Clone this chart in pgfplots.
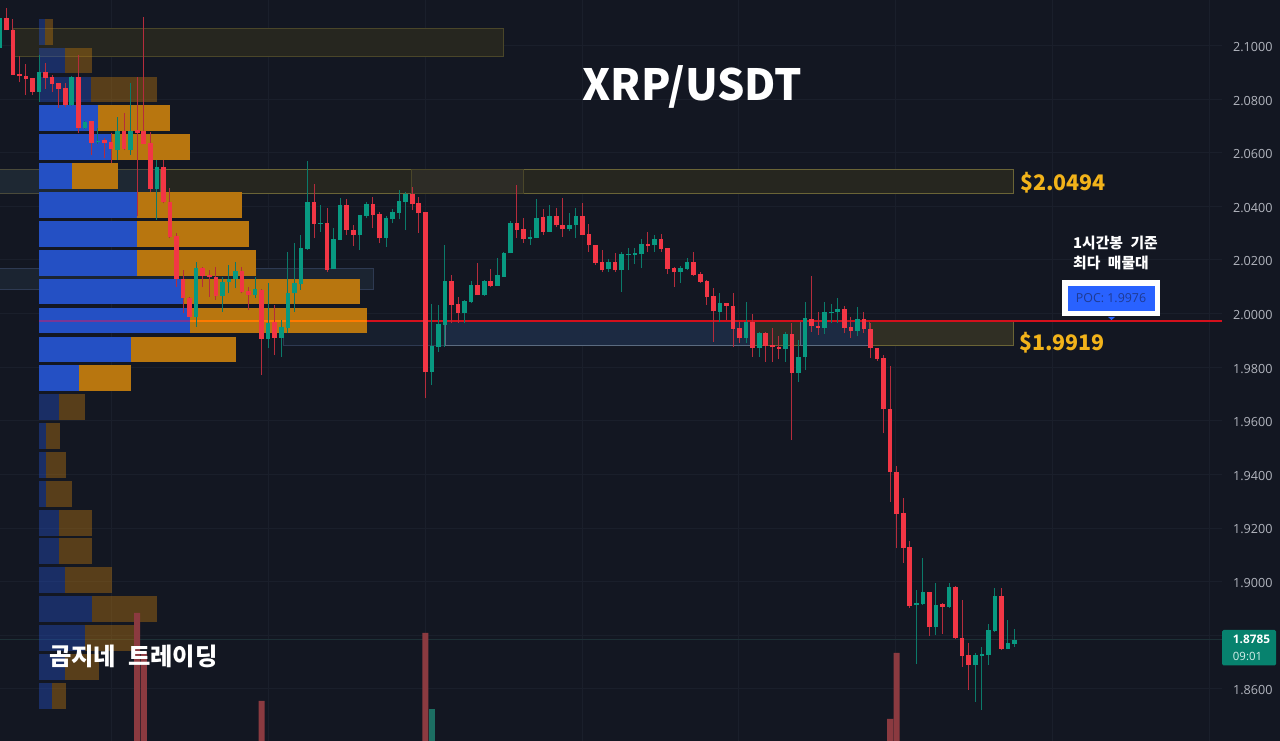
\documentclass[border=0pt]{standalone}
\usepackage{pgfplots}
\usepackage{pgfplotstable}
\usepackage{fontspec}
\pgfplotsset{compat=1.18}
\setmainfont{Open Sans}
\newfontfamily\kr{Noto Sans CJK KR}
\definecolor{bg}{HTML}{131722}
\definecolor{gridc}{HTML}{1A1F2B}
\definecolor{cred}{HTML}{F23645}
\definecolor{cteal}{HTML}{089981}
\definecolor{wred}{HTML}{B52C3C}
\definecolor{wteal}{HTML}{0B7A6A}
\definecolor{pblue}{HTML}{2450C4}
\definecolor{porange}{HTML}{B8760F}
\definecolor{olive}{HTML}{26261F}
\definecolor{olive2}{HTML}{2D2C26}
\definecolor{oledge}{HTML}{6A6436}
\definecolor{bluez}{HTML}{1C2A42}
\definecolor{bluez2}{HTML}{171F2E}
\definecolor{blueedge}{HTML}{5B6B80}
\definecolor{blueedge2}{HTML}{2E3A52}
\definecolor{gold}{HTML}{F2B31A}
\definecolor{ticktxt}{HTML}{B2B5BE}
\definecolor{lastline}{HTML}{1D3036}
\definecolor{oledgeb}{HTML}{4A4629}
\definecolor{zoneb}{HTML}{1E2833}
\definecolor{oledgec}{HTML}{4A4A3A}
\definecolor{zonec}{HTML}{1B2431}
\definecolor{olive3}{HTML}{302F24}
\definecolor{volred}{HTML}{8B3A40}
\definecolor{volteal}{HTML}{1C6E62}
\definecolor{pocpurple}{HTML}{7A3696}
\definecolor{pocorange}{HTML}{FF7A00}
\definecolor{pocred}{HTML}{D3101C}
\definecolor{pocblue}{HTML}{2962FF}
\definecolor{poctext}{HTML}{1F3A93}
\definecolor{tagfill}{HTML}{089981}
\definecolor{tagtxt}{HTML}{D5EFEA}

% candles: bar index, body top, body bottom, high, low
\pgfplotstableread{
i top bot hi lo
1 2.1102 2.1056 2.1139 2.1056
2 2.1058 2.0890 2.1098 2.0890
3 2.0894 2.0885 2.0959 2.0862
4 2.0888 2.0874 2.0931 2.0816
5 2.0878 2.0828 2.0878 2.0816
7 2.0901 2.0879 2.0934 2.0837
8 2.0881 2.0857 2.0890 2.0828
9 2.0859 2.0839 2.0859 2.0766
10 2.0842 2.0777 2.0859 2.0772
12 2.0884 2.0692 2.0965 2.0672
14 2.0717 2.0638 2.0720 2.0592
16 2.0648 2.0635 2.0654 2.0579
17 2.0640 2.0613 2.0672 2.0561
19 2.0682 2.0613 2.0747 2.0610
21 2.0685 2.0675 2.0884 2.0362
22 2.0682 2.0633 2.1108 2.0633
23 2.0638 2.0465 2.0679 2.0455
25 2.0548 2.0415 2.0573 2.0411
26 2.0417 2.0287 2.0467 2.0281
27 2.0289 2.0128 2.0299 2.0100
28 2.0128 2.0057 2.0163 2.0001
29 2.0059 1.9988 2.0063 1.9988
31 2.0169 2.0140 2.0175 2.0100
32 2.0145 2.0135 2.0163 2.0063
33 2.0135 2.0065 2.0175 2.0051
37 2.0160 2.0080 2.0175 2.0075
38 2.0083 2.0070 2.0100 2.0013
40 2.0088 1.9906 2.0090 1.9771
42 1.9969 1.9909 2.0032 1.9845
48 2.0415 2.0334 2.0483 2.0281
50 2.0338 2.0162 2.0392 2.0156
53 2.0405 2.0311 2.0426 2.0293
54 2.0313 2.0292 2.0330 2.0252
57 2.0407 2.0367 2.0436 2.0318
58 2.0371 2.0280 2.0380 2.0262
63 2.0445 2.0407 2.0473 2.0386
64 2.0411 2.0374 2.0436 2.0302
65 2.0377 1.9780 2.0377 1.9683
69 2.0122 2.0032 2.0144 1.9963
70 2.0035 2.0003 2.0063 1.9966
73 2.0106 2.0069 2.0187 2.0069
75 2.0121 2.0103 2.0165 2.0098
79 2.0339 2.0311 2.0479 2.0280
80 2.0314 2.0277 2.0355 2.0264
83 2.0359 2.0305 2.0389 2.0293
85 2.0365 2.0329 2.0392 2.0321
86 2.0330 2.0314 2.0430 2.0287
89 2.0364 2.0293 2.0411 2.0293
90 2.0297 2.0254 2.0333 2.0231
91 2.0257 2.0190 2.0257 2.0181
92 2.0194 2.0161 2.0237 2.0156
94 2.0194 2.0161 2.0225 2.0156
99 2.0259 2.0253 2.0303 2.0231
101 2.0278 2.0241 2.0297 2.0231
102 2.0243 2.0165 2.0243 2.0148
103 2.0169 2.0153 2.0172 2.0098
106 2.0191 2.0144 2.0231 2.0141
107 2.0146 2.0119 2.0153 2.0115
108 2.0123 2.0063 2.0125 2.0032
109 2.0065 2.0008 2.0094 1.9895
111 2.0038 2.0028 2.0041 1.9976
112 2.0029 1.9944 2.0078 1.9876
113 1.9945 1.9908 1.9970 1.9891
115 1.9968 1.9870 1.9998 1.9837
117 1.9929 1.9880 1.9932 1.9820
118 1.9883 1.9874 1.9945 1.9820
119 1.9875 1.9869 1.9916 1.9829
121 1.9924 1.9779 1.9966 1.9528
124 1.9980 1.9954 2.0140 1.9932
125 1.9955 1.9947 2.0007 1.9920
129 2.0018 1.9947 2.0028 1.9926
130 1.9950 1.9934 1.9986 1.9908
132 1.9981 1.9941 2.0007 1.9929
133 1.9942 1.9873 1.9966 1.9835
134 1.9873 1.9832 1.9873 1.9824
135 1.9833 1.9642 1.9845 1.9553
136 1.9644 1.9407 1.9804 1.9298
137 1.9410 1.9252 1.9431 1.9124
138 1.9254 1.9126 1.9310 1.9070
139 1.9129 1.8908 1.9151 1.8902
142 1.8959 1.8829 1.8962 1.8796
144 1.8915 1.8906 1.8918 1.8806
146 1.8979 1.8788 1.8983 1.8785
147 1.8790 1.8723 1.8931 1.8682
148 1.8724 1.8688 1.8769 1.8595
153 1.8946 1.8750 1.8974 1.8744
}\downbars
\pgfplotstableread{
i top bot hi lo
0 2.1102 2.0990 2.1139 2.0959
6 2.0901 2.0828 2.0965 2.0791
11 2.0884 2.0777 2.0886 2.0774
13 2.0715 2.0692 2.0720 2.0690
15 2.0643 2.0640 2.0691 2.0633
18 2.0682 2.0610 2.0735 2.0573
20 2.0682 2.0610 2.0859 2.0592
24 2.0548 2.0466 2.0573 2.0349
30 2.0171 1.9988 2.0194 1.9951
34 2.0119 2.0065 2.0138 2.0007
35 2.0130 2.0118 2.0181 2.0075
36 2.0160 2.0128 2.0194 2.0094
39 2.0090 2.0069 2.0138 2.0057
41 1.9966 1.9906 2.0113 1.9870
43 1.9949 1.9909 1.9976 1.9839
44 2.0078 1.9945 2.0231 1.9926
45 2.0113 2.0075 2.0262 2.0007
46 2.0246 2.0109 2.0293 2.0088
47 2.0416 2.0242 2.0570 2.0237
49 2.0339 2.0335 2.0405 2.0305
51 2.0279 2.0165 2.0318 2.0165
52 2.0405 2.0274 2.0430 2.0274
55 2.0367 2.0292 2.0367 2.0237
56 2.0407 2.0364 2.0417 2.0355
59 2.0355 2.0283 2.0364 2.0249
60 2.0377 2.0351 2.0389 2.0336
61 2.0420 2.0376 2.0461 2.0351
62 2.0445 2.0417 2.0455 2.0311
66 1.9879 1.9782 2.0035 1.9733
67 1.9959 1.9876 2.0032 1.9857
68 2.0122 1.9957 2.0256 1.9876
71 2.0047 2.0003 2.0050 1.9963
72 2.0106 2.0043 2.0122 2.0038
74 2.0121 2.0068 2.0125 2.0065
76 2.0142 2.0103 2.0206 2.0103
77 2.0224 2.0137 2.0231 2.0137
78 2.0339 2.0224 2.0346 2.0224
81 2.0284 2.0279 2.0311 2.0256
82 2.0358 2.0282 2.0426 2.0280
84 2.0365 2.0305 2.0405 2.0305
87 2.0330 2.0314 2.0374 2.0306
88 2.0364 2.0330 2.0393 2.0281
93 2.0194 2.0166 2.0202 2.0156
95 2.0222 2.0162 2.0231 2.0082
96 2.0222 2.0220 2.0243 2.0162
97 2.0227 2.0220 2.0243 2.0185
98 2.0259 2.0222 2.0277 2.0169
100 2.0278 2.0256 2.0293 2.0231
104 2.0169 2.0155 2.0177 2.0113
105 2.0191 2.0166 2.0206 2.0162
110 2.0038 2.0007 2.0078 1.9970
114 1.9967 1.9908 2.0044 1.9889
116 1.9929 1.9870 1.9932 1.9839
120 1.9924 1.9869 1.9932 1.9820
122 1.9837 1.9779 1.9901 1.9746
123 1.9982 1.9837 2.0044 1.9789
126 2.0005 1.9947 2.0044 1.9924
127 2.0006 2.0003 2.0036 1.9966
128 2.0016 2.0005 2.0057 1.9966
131 1.9980 1.9934 2.0026 1.9916
140 1.8920 1.8913 1.8968 1.8692
141 1.8959 1.8916 1.9086 1.8912
143 1.8912 1.8829 1.8996 1.8800
145 1.8981 1.8906 1.8993 1.8903
149 1.8724 1.8688 1.8732 1.8551
150 1.8731 1.8723 1.8757 1.8520
151 1.8819 1.8724 1.8841 1.8688
152 1.8945 1.8816 1.8974 1.8813
154 1.8769 1.8750 1.8856 1.8747
155 1.8781 1.8768 1.8821 1.8757
}\upbars
% volume profile: price level, blue end, orange end
\pgfplotstableread{
p b o
2.0729 98.3 170.3
2.0621 111.3 190.3
2.0513 71.7 118
2.0404 137.3 242.3
2.0297 137 249
2.0189 137 255.7
2.0082 183.3 360
1.9974 190 366.5
1.9866 130.7 236
1.9759 78.7 131.3
}\profbright
\pgfplotstableread{
p b o
2.1050 45 52.7
2.0944 65 91.7
2.0836 91 157.3
1.9651 59 85.3
1.9544 45.7 59.7
1.9435 45.7 65.7
1.9328 45.7 72
1.9219 59 91.7
1.9113 59 91.7
1.9005 65.3 111.7
1.8896 91.7 157
1.8789 85 137.7
1.8682 65.3 98.7
1.8574 52.3 65.7
}\profdim

\pgfplotsset{
  base/.style={at={(0,0)},anchor=south west,scale only axis,width=1280pt,height=741pt,
    xmin=0,xmax=1280,clip=true,tick style={draw=none}},
  price/.style={base,ymin=1.84049,ymax=2.11698},
  wick/.style={draw=none,no markers,forget plot,
    error bars/.cd,y dir=plus,y explicit,error mark=none,
    error bar style={draw=#1,line width=1pt}},
  body/.style={draw=none,no markers,forget plot,
    error bars/.cd,y dir=plus,y explicit,error mark=none,
    error bar style={draw=#1,line width=4.6pt}},
  prof/.style 2 args={draw=none,no markers,forget plot,
    error bars/.cd,x dir=plus,x explicit,error mark=none,
    error bar style={draw=#1,line width=25.8pt,opacity=#2}},
}
\newcommand{\zone}[6]{\addplot[fill=#5,draw=#6,line width=0.9pt,forget plot] coordinates {(#1,#3)(#2,#3)(#2,#4)(#1,#4)} --cycle;}
\begin{document}
\begin{tikzpicture}[x=1pt,y=1pt]
\useasboundingbox (0,0) rectangle (1280,741);
\begin{axis}[price,
  axis background/.style={fill=bg},
  axis line style={draw=none},
  xtick={111,268,425,582,738,895,1052,1209},xticklabels={},
  ytick={1.84,1.86,1.88,1.90,1.92,1.94,1.96,1.98,2.00,2.02,2.04,2.06,2.08,2.10},yticklabels={},
  grid=major,major grid style={draw=gridc,line width=0.8pt},
  axis on top=false,
  ]
\addplot[fill=bg,draw=none,forget plot] coordinates {(1222,1.84049)(1280,1.84049)(1280,2.11698)(1222,2.11698)} --cycle;
\addplot[draw=lastline,line width=0.8pt,forget plot] coordinates {(0,1.8785)(1222,1.8785)};
% zones
\zone{13}{503}{2.0960}{2.1064}{olive}{oledgeb}
\zone{-5}{160}{2.0448}{2.0539}{zoneb}{oledgec}
\zone{160}{1013}{2.0448}{2.0539}{olive}{oledge}
\zone{411.5}{523}{2.0448}{2.0539}{olive2}{oledgeb}
\zone{-5}{373}{2.0088}{2.0168}{zonec}{blueedge2}
\zone{283}{445}{1.9879}{1.9970}{bluez2}{blueedge2}
\zone{445}{753}{1.9879}{1.9970}{bluez}{blueedge}
\zone{753}{800}{1.9879}{1.9970}{olive2}{oledge}
\zone{800}{869}{1.9879}{1.9970}{bluez}{blueedge}
\zone{869}{1013}{1.9879}{1.9970}{olive3}{oledge}
% volume profile
\addplot[prof={porange}{0.42}] table[x=b,y=p,x error plus expr=\thisrow{o}-\thisrow{b}] {\profdim};
\addplot[prof={pblue}{0.42}] table[x expr=39.3,y=p,x error plus expr=\thisrow{b}-39.3] {\profdim};
\addplot[prof={porange}{1}] table[x=b,y=p,x error plus expr=\thisrow{o}-\thisrow{b}] {\profbright};
\addplot[prof={pblue}{1}] table[x expr=39.3,y=p,x error plus expr=\thisrow{b}-39.3] {\profbright};
\end{axis}
% volume bars
\begin{axis}[base,ymin=0,ymax=741,hide axis]
\addplot[ybar,bar width=6pt,fill=volred,draw=none,forget plot] coordinates {(137.2,128)(143.8,89)(261.6,40)(425.3,108)(890,22)(896.7,88)};
\addplot[ybar,bar width=6pt,fill=volteal,draw=none,forget plot] coordinates {(431.8,32)};
\end{axis}
% candles
\begin{axis}[price,
  axis line style={draw=none},
  xtick=\empty,
  ytick={1.84,1.86,1.88,1.90,1.92,1.94,1.96,1.98,2.00,2.02,2.04,2.06,2.08,2.10},
  yticklabel pos=right,
  yticklabel style={anchor=east,xshift=-4pt,yshift=-1.5pt,font=\fontsize{12.6}{14}\selectfont,text=ticktxt,
    /pgf/number format/.cd,fixed,fixed zerofill,precision=4,assume math mode=true},
  ]
\addplot[draw=pocpurple,line width=1.6pt,forget plot] coordinates {(39.3,1.9973)(190,1.9973)};
\addplot[draw=pocorange,line width=1.6pt,forget plot] coordinates {(190,1.9973)(366.5,1.9973)};
\addplot[draw=pocred,line width=1.8pt,forget plot] coordinates {(366.5,1.9973)(1222,1.9973)};
\addplot[wick=wred] table[x expr=-0.25+6.547*\thisrow{i},y=lo,y error plus expr=\thisrow{hi}-\thisrow{lo}] {\downbars};
\addplot[wick=wteal] table[x expr=-0.25+6.547*\thisrow{i},y=lo,y error plus expr=\thisrow{hi}-\thisrow{lo}] {\upbars};
\addplot[body=cred] table[x expr=-0.25+6.547*\thisrow{i},y=bot,y error plus expr=\thisrow{top}-\thisrow{bot}] {\downbars};
\addplot[body=cteal] table[x expr=-0.25+6.547*\thisrow{i},y=bot,y error plus expr=\thisrow{top}-\thisrow{bot}] {\upbars};
\end{axis}
% annotations (y measured from the bottom of the picture)
\node[anchor=center,inner sep=0pt,text=white] at (692.5,654) {\kr\bfseries\fontsize{43}{46}\selectfont XRP/USDT};
\node[anchor=west,inner sep=0pt,text=gold] at (1020,558) {\kr\bfseries\fontsize{21.4}{24}\selectfont \$2.0494};
\node[anchor=west,inner sep=0pt,text=gold] at (1019,398) {\kr\bfseries\fontsize{21.4}{24}\selectfont \$1.9919};
\node[anchor=west,inner sep=0pt,text=white] at (1073,498) {\kr\bfseries\fontsize{14.8}{16}\selectfont 1시간봉\hspace{7.5pt}기준};
\node[anchor=west,inner sep=0pt,text=white] at (1073,478) {\kr\bfseries\fontsize{14.8}{16}\selectfont 최다\hspace{7.5pt}매물대};
\fill[white] (1062,424.5) rectangle (1160,461);
\fill[pocblue] (1068,430) rectangle (1155,455);
\node[anchor=center,inner sep=0pt,text=poctext] at (1111,443) {\fontsize{12.4}{13}\selectfont POC: 1.9976};
\fill[pocblue] (1108,424) -- (1115,424) -- (1111.5,421) -- cycle;
\node[anchor=west,inner sep=0pt,text=white] at (49,85) {\kr\fontsize{24.3}{26}\selectfont\bfseries 곰지네\hspace{12pt}트레이딩};
\fill[rounded corners=1.5pt,tagfill!85!black] (1222,75.5) rectangle (1276,111);
\node[anchor=center,inner sep=0pt,text=white] at (1251.5,102) {\fontsize{11.8}{12}\selectfont\bfseries 1.8785};
\node[anchor=center,inner sep=0pt,text=tagtxt] at (1247.5,85) {\fontsize{11.4}{12}\selectfont 09:01};
\end{tikzpicture}
\end{document}
